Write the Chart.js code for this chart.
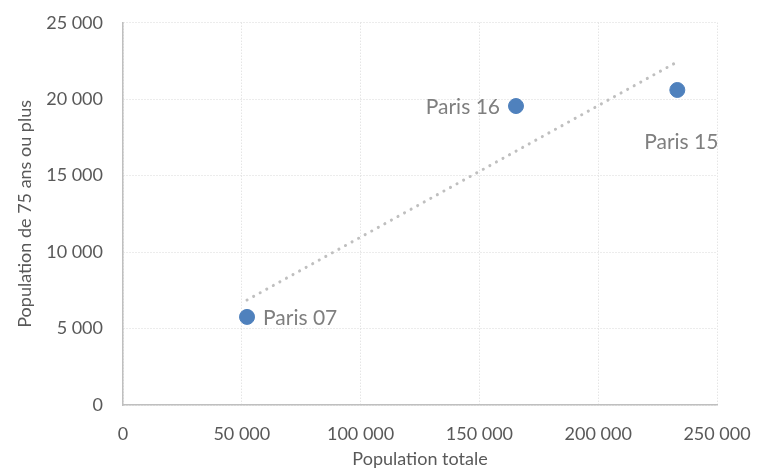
<!DOCTYPE html>
<html lang="fr">
<head>
<meta charset="utf-8">
<title>Population 75 ans ou plus</title>
<script src="https://cdn.jsdelivr.net/npm/chart.js"></script>
<style>
  body { margin: 0; background: #fff; }
  #wrap { width: 757px; height: 470px; }
</style>
</head>
<body>
<div id="wrap"><canvas id="myChart" width="757" height="470"></canvas></div>
<script>
// data
const names = ['Paris 07', 'Paris 16', 'Paris 15'];
const popTotale = [52200, 165400, 233300];
const pop75 = [5760, 19550, 20600];
const xTicks = [0, 50000, 100000, 150000, 200000, 250000];
const yTicks = [0, 5000, 10000, 15000, 20000, 25000];

// where each label sits next to its point
const labelPos = ['right', 'left', 'below'];

const FONT = 'Lato, "Open Sans", sans-serif';

function fmt(v) {
  return v.toString().replace(/\B(?=(\d{3})+(?!\d))/g, ' ');
}

// linear trend (least squares) from the points
const n = popTotale.length;
const mx = popTotale.reduce((a, b) => a + b, 0) / n;
const my = pop75.reduce((a, b) => a + b, 0) / n;
let sxy = 0, sxx = 0;
for (let i = 0; i < n; i++) {
  sxy += (popTotale[i] - mx) * (pop75[i] - my);
  sxx += (popTotale[i] - mx) * (popTotale[i] - mx);
}
const slope = sxy / sxx;
const xmin = Math.min(...popTotale), xmax = Math.max(...popTotale);
const trend = [
  { x: xmin, y: my + slope * (xmin - mx) },
  { x: xmax, y: my + slope * (xmax - mx) }
];

const pointLabels = {
  id: 'pointLabels',
  afterDatasetsDraw(chart) {
    const ctx = chart.ctx;
    const meta = chart.getDatasetMeta(1);
    ctx.save();
    ctx.font = '21px ' + FONT;
    ctx.fillStyle = '#7f7f7f';
    ctx.textBaseline = 'middle';
    meta.data.forEach((pt, i) => {
      const pos = labelPos[i];
      if (pos === 'right') {
        ctx.textAlign = 'left';
        ctx.fillText(names[i], pt.x + 16, pt.y + 1);
      } else if (pos === 'left') {
        ctx.textAlign = 'right';
        ctx.fillText(names[i], pt.x - 16, pt.y + 1);
      } else {
        ctx.textAlign = 'center';
        ctx.fillText(names[i], pt.x + 4, pt.y + 52);
      }
    });
    ctx.restore();
  }
};

new Chart(document.getElementById('myChart'), {
  type: 'scatter',
  data: {
    datasets: [
      {
        type: 'line',
        data: trend,
        borderColor: '#bfbfbf',
        borderWidth: 3,
        borderDash: [0.1, 7.4],
        borderCapStyle: 'round',
        pointRadius: 0,
        fill: false
      },
      {
        data: popTotale.map((x, i) => ({ x: x, y: pop75[i] })),
        backgroundColor: '#4f81bd',
        borderColor: '#4f81bd',
        pointRadius: 7.5,
        pointHoverRadius: 7.5
      }
    ]
  },
  options: {
    responsive: false,
    animation: false,
    layout: { padding: { top: 22.7, right: 40, left: 0, bottom: 0 } },
    plugins: { legend: { display: false }, tooltip: { enabled: false } },
    scales: {
      x: {
        type: 'linear',
        min: 0, max: 250000,
        afterBuildTicks: s => { s.ticks = xTicks.map(v => ({ value: v })); },
        afterFit: s => { s.height = 65; s.paddingLeft = 0; s.paddingRight = 0; },
        grid: { color: '#d9d9d9', drawTicks: false },
        border: { color: '#bfbfbf', width: 1.5, dash: [1, 2] },
        ticks: { color: '#595959', font: { family: FONT, size: 18 }, padding: 18, callback: v => fmt(v) },
        title: { display: true, text: 'Population totale', color: '#595959', font: { family: FONT, size: 18 }, padding: { top: 2, bottom: 0 } }
      },
      y: {
        min: 0, max: 25000,
        afterBuildTicks: s => { s.ticks = yTicks.map(v => ({ value: v })); },
        afterFit: s => { s.width = 123; s.paddingTop = 0; s.paddingBottom = 0; },
        grid: { color: '#d9d9d9', drawTicks: false },
        border: { color: '#bfbfbf', width: 1.5, dash: [1, 2] },
        ticks: { color: '#595959', font: { family: FONT, size: 18 }, padding: 20, callback: v => fmt(v) },
        title: { display: true, text: 'Population de 75 ans ou plus', color: '#595959', font: { family: FONT, size: 18 }, padding: { top: 14, bottom: 0 } }
      }
    }
  },
  plugins: [pointLabels]
});
</script>
</body>
</html>
